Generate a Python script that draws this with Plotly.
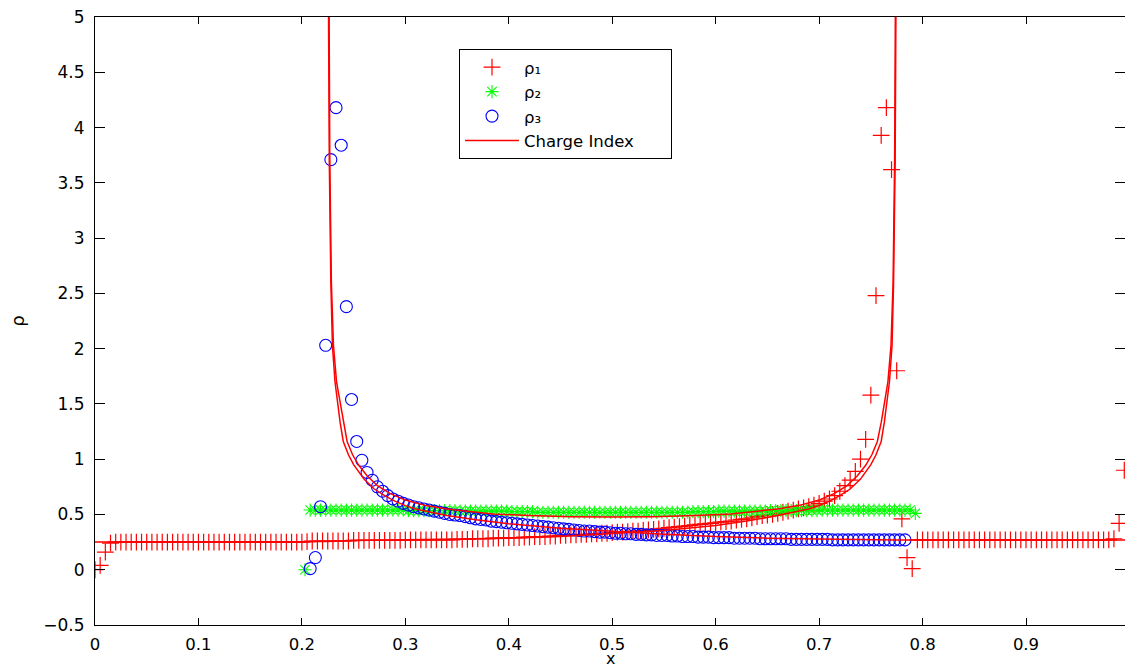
import plotly.graph_objects as go

# ---------------- data ----------------
# rho_1 : red "+" markers, x = 0, 0.005, 0.010, ...
rho1 = [0.00, 0.04, 0.16, 0.24,
        0.25, 0.25, 0.25, 0.25, 0.25, 0.25, 0.25, 0.25, 0.25, 0.25,
        0.25, 0.25, 0.25, 0.25, 0.25, 0.25, 0.25, 0.25, 0.25, 0.25,
        0.25, 0.25, 0.25, 0.25, 0.25, 0.25, 0.25, 0.25, 0.25, 0.25,
        0.25, 0.25, 0.25, 0.25, 0.25, 0.25, 0.25,
        0.255,
        0.26, 0.26, 0.26, 0.26, 0.26, 0.26, 0.26, 0.26,
        0.265, 0.265, 0.265, 0.265, 0.265, 0.265, 0.265, 0.265, 0.265, 0.265,
        0.27, 0.27, 0.27, 0.27, 0.27, 0.27, 0.27, 0.27, 0.27, 0.27,
        0.275, 0.275, 0.275, 0.28, 0.28, 0.28, 0.28, 0.285, 0.285, 0.285,
        0.29, 0.29, 0.29, 0.295, 0.295, 0.30, 0.30, 0.30, 0.305, 0.305,
        0.31, 0.31, 0.315, 0.315, 0.32, 0.32, 0.325, 0.325, 0.33, 0.33,
        0.335, 0.34, 0.34, 0.345, 0.35, 0.35, 0.355, 0.36, 0.365, 0.37,
        0.375, 0.38, 0.385, 0.39, 0.395, 0.40, 0.405, 0.41, 0.415, 0.42,
        0.425, 0.43, 0.435, 0.44, 0.45, 0.455, 0.46, 0.47, 0.48, 0.49,
        0.495, 0.50, 0.51, 0.52, 0.53, 0.54, 0.55, 0.56, 0.57, 0.585,
        0.60, 0.62, 0.64, 0.67, 0.71, 0.76, 0.81, 0.89, 1.00, 1.18,
        1.58, 2.48, 3.93, 4.18, 3.62, 1.80, 0.46, 0.11, 0.01,
        0.27, 0.27, 0.27, 0.27, 0.27, 0.27, 0.27, 0.27, 0.27, 0.27,
        0.27, 0.27, 0.27, 0.27, 0.27, 0.27, 0.27, 0.27, 0.27, 0.27,
        0.27, 0.27, 0.27, 0.27, 0.27, 0.27, 0.27, 0.27, 0.27, 0.27,
        0.27, 0.27, 0.27, 0.27, 0.27, 0.27, 0.27, 0.27,
        0.28, 0.42, 0.90]
rho1_x0, rho1_dx = 0.0, 0.005

# rho_2 : green "*" markers, x = 0.203, 0.208, ...
rho2 = [0.00,
        0.54, 0.54, 0.54, 0.54, 0.54, 0.54, 0.54, 0.54, 0.54, 0.54,
        0.54, 0.54, 0.54, 0.54, 0.54, 0.54, 0.54, 0.54, 0.54,
        0.535, 0.535, 0.535, 0.535, 0.535, 0.535, 0.535, 0.535, 0.535, 0.535,
        0.53, 0.53, 0.53, 0.53, 0.53, 0.53, 0.53, 0.53, 0.53, 0.53,
        0.525, 0.525, 0.525, 0.525, 0.525,
        0.52, 0.52, 0.52, 0.52, 0.52, 0.52, 0.52, 0.52, 0.52, 0.52,
        0.52, 0.52, 0.52, 0.52, 0.52, 0.52, 0.52, 0.52, 0.52, 0.52,
        0.52, 0.52, 0.52, 0.52, 0.52, 0.52, 0.52, 0.52, 0.52, 0.52,
        0.525, 0.525, 0.525, 0.525, 0.525,
        0.53, 0.53, 0.53, 0.53, 0.53, 0.53, 0.53, 0.53, 0.53, 0.53,
        0.535, 0.535, 0.535, 0.535, 0.535, 0.535, 0.535, 0.535, 0.535, 0.535,
        0.54, 0.54, 0.54, 0.54, 0.54, 0.54, 0.54, 0.54, 0.54,
        0.54, 0.54, 0.54, 0.54, 0.54, 0.54, 0.54, 0.54, 0.54,
        0.51]
rho2_x0, rho2_dx = 0.203, 0.005

# rho_3 : blue "o" markers, x = 0.208, 0.213, ...
rho3 = [0.01, 0.11, 0.57, 2.03, 3.71, 4.18, 3.84, 2.38, 1.54, 1.16,
        0.99, 0.88, 0.81, 0.75, 0.71, 0.67, 0.64, 0.62, 0.60, 0.585,
        0.57, 0.56, 0.55, 0.54, 0.53, 0.52, 0.51, 0.50, 0.495, 0.49,
        0.48, 0.47, 0.46, 0.455, 0.45, 0.44, 0.435, 0.43, 0.425, 0.42,
        0.415, 0.41, 0.405, 0.40, 0.395, 0.39, 0.385, 0.38, 0.375, 0.37,
        0.365, 0.36, 0.355, 0.35, 0.35, 0.345, 0.34, 0.34, 0.335, 0.33,
        0.33, 0.325, 0.325, 0.32, 0.32, 0.315, 0.315, 0.31, 0.31, 0.31,
        0.305, 0.305, 0.30, 0.30, 0.30, 0.295, 0.295, 0.295, 0.29, 0.29,
        0.29, 0.29, 0.285, 0.285, 0.285, 0.285, 0.285, 0.28, 0.28, 0.28,
        0.28, 0.28, 0.28, 0.275, 0.275, 0.275, 0.275, 0.275, 0.275, 0.275,
        0.275, 0.27, 0.27, 0.27, 0.27, 0.27, 0.27, 0.27, 0.27, 0.27,
        0.27, 0.27, 0.27, 0.27, 0.27, 0.27]
rho3_x0, rho3_dx = 0.208, 0.005

# Charge index: three branches
ci_dec_x = [0.2252, 0.2258, 0.2265, 0.228, 0.2295, 0.232, 0.234, 0.237, 0.240,
            0.245, 0.25, 0.26, 0.27, 0.28, 0.29, 0.30, 0.31, 0.34, 0.37, 0.40,
            0.45, 0.50, 0.55, 0.60, 0.65, 0.70, 0.75, 0.775, 1.0]
ci_dec_y = [6.0, 4.5, 3.7, 2.6, 2.03, 1.7, 1.53, 1.33, 1.16,
            1.04, 0.95, 0.82, 0.73, 0.67, 0.62, 0.58, 0.55, 0.49, 0.45, 0.415,
            0.375, 0.345, 0.32, 0.30, 0.285, 0.277, 0.272, 0.27, 0.27]

ci_u_x = [0.2258, 0.2262, 0.227, 0.2285, 0.2305, 0.2335, 0.2365, 0.240, 0.2437,
          0.249, 0.255, 0.263, 0.273, 0.285, 0.30, 0.32, 0.34, 0.36, 0.385,
          0.42, 0.46, 0.50, 0.54, 0.58, 0.615, 0.64, 0.66, 0.68, 0.70, 0.715,
          0.727, 0.737, 0.745, 0.751, 0.7563, 0.760, 0.7635, 0.7665, 0.7695,
          0.7715, 0.773, 0.7738, 0.7742]
ci_u_y = [6.0, 5.0, 3.7, 2.6, 2.03, 1.7, 1.53, 1.33, 1.16,
          1.04, 0.945, 0.85, 0.76, 0.69, 0.63, 0.58, 0.55, 0.53, 0.505,
          0.49, 0.48, 0.477, 0.48, 0.49, 0.505, 0.53, 0.55, 0.58, 0.63, 0.69,
          0.76, 0.85, 0.945, 1.04, 1.16, 1.33, 1.53, 1.7, 2.03,
          2.6, 3.7, 5.0, 6.0]

ci_inc_x = [0.0, 0.225, 0.25, 0.30, 0.35, 0.40, 0.45, 0.50, 0.55, 0.60, 0.63,
            0.66, 0.69, 0.70, 0.71, 0.72, 0.73, 0.74, 0.75, 0.755, 0.760,
            0.763, 0.766, 0.768, 0.7705, 0.772, 0.7735, 0.7742, 0.7748]
ci_inc_y = [0.25, 0.255, 0.265, 0.27, 0.275, 0.285, 0.30, 0.325, 0.355, 0.40, 0.44,
            0.49, 0.55, 0.58, 0.62, 0.67, 0.73, 0.82, 0.95, 1.04, 1.16,
            1.33, 1.53, 1.7, 2.03, 2.6, 3.7, 4.5, 6.0]

x_ticks = [0, 0.1, 0.2, 0.3, 0.4, 0.5, 0.6, 0.7, 0.8, 0.9, 1]
y_ticks = [-0.5, 0, 0.5, 1, 1.5, 2, 2.5, 3, 3.5, 4, 4.5, 5]

# ---------------- figure ----------------
def grid(x0, dx, n):
    return [round(x0 + dx * i, 6) for i in range(n)]

FONT = "DejaVu Sans"
NBSP = "\u00a0"
fig = go.Figure()

fig.add_trace(go.Scatter(
    x=grid(rho1_x0, rho1_dx, len(rho1)), y=rho1, mode="markers",
    name="ρ₁",
    marker=dict(symbol="cross-thin", size=12, color="#ff0000",
                line=dict(width=1.2, color="#ff0000"))))
fig.add_trace(go.Scatter(
    x=grid(rho2_x0, rho2_dx, len(rho2)), y=rho2, mode="markers",
    name="ρ₂",
    marker=dict(symbol="asterisk-open", size=11, color="#00ff00",
                line=dict(width=1.1, color="#00ff00"))))
fig.add_trace(go.Scatter(
    x=grid(rho3_x0, rho3_dx, len(rho3)), y=rho3, mode="markers",
    name="ρ₃",
    marker=dict(symbol="circle-open", size=12, color="#0000ff",
                line=dict(width=1.1, color="#0000ff"))))

ci_x = ci_dec_x + [None] + ci_u_x + [None] + ci_inc_x
ci_y = ci_dec_y + [None] + ci_u_y + [None] + ci_inc_y
fig.add_trace(go.Scatter(
    x=ci_x, y=ci_y, mode="lines", name="Charge Index" + NBSP * 6,
    connectgaps=False, line=dict(color="#ff0000", width=1.5)))

axis_common = dict(
    showgrid=False, zeroline=False, showline=True, linecolor="black",
    linewidth=1, mirror="ticks", ticks="inside", tickcolor="black",
    tickwidth=1, tickfont=dict(family=FONT, size=17, color="black"),
)

fig.update_layout(
    width=1125, height=667,
    margin=dict(l=95, r=0, t=17, b=42, pad=0),
    paper_bgcolor="white", plot_bgcolor="white",
    font=dict(family=FONT, size=17, color="black"),
    showlegend=True,
    legend=dict(
        x=0.3534, y=0.9474, xanchor="left", yanchor="top",
        bgcolor="white", bordercolor="black", borderwidth=1,
        font=dict(family=FONT, size=16.5, color="black"),
        itemwidth=54, tracegroupgap=0,
    ),
    xaxis=dict(
        range=[0, 0.9957], tickvals=x_ticks, ticklen=7,
        ticklabelstandoff=4, automargin=False,
        **axis_common),
    yaxis=dict(
        range=[-0.5, 5], tickvals=y_ticks, ticklen=10,
        title=dict(text="ρ", font=dict(family=FONT, size=18), standoff=14),
        ticklabelstandoff=6, automargin=False,
        **axis_common),
    annotations=[dict(
        text="x", xref="paper", yref="paper", x=0.5, y=0,
        xanchor="center", yanchor="middle", yshift=-33.5, showarrow=False,
        font=dict(family=FONT, size=16, color="black"))],
)
fig.update_xaxes(tickfont=dict(size=16.5))

fig.write_html("out.html")
